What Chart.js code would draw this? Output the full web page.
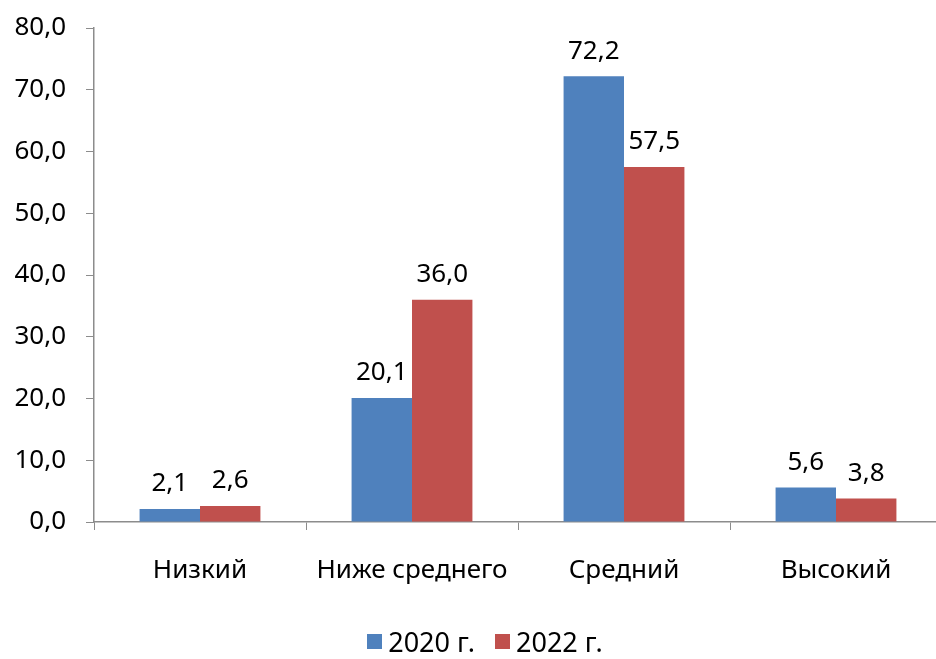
<!DOCTYPE html>
<html lang="ru">
<head>
<meta charset="utf-8">
<title>Уровень</title>
<script src="https://cdn.jsdelivr.net/npm/chart.js@4.4.1/dist/chart.umd.min.js"></script>
<style>
  html, body { margin: 0; padding: 0; background: #fff; overflow: hidden; }
  #wrap { position: relative; width: 936px; height: 659px; overflow: hidden; }
  #legend {
    position: absolute; left: 0; top: 623px; width: 970px;
    display: flex; justify-content: center; gap: 20px;
    font: 27px "Noto Sans", sans-serif; color: #000;
  }
  #legend span.item { display: flex; align-items: center; }
  #legend i { display: inline-block; width: 15px; height: 15px; margin-right: 6px; }
</style>
</head>
<body>
<div id="wrap">
  <canvas id="chart" width="950" height="659"></canvas>
  <div id="legend"></div>
</div>
<script>
/* ---------- data ---------- */
const categories = ['Низкий', 'Ниже среднего', 'Средний', 'Высокий'];
const series2020 = [2.1, 20.1, 72.2, 5.6];
const series2022 = [2.6, 36.0, 57.5, 3.8];
const seriesNames = ['2020 г.', '2022 г.'];
const seriesColors = ['#4F81BD', '#C0504D'];

const FONT = '"Noto Sans", sans-serif';
const fmt = v => Number(v).toFixed(1).replace('.', ',');

// value labels above each bar, placed from the bar element positions
const valueLabels = {
  id: 'valueLabels',
  afterDatasetsDraw(chart) {
    const ctx = chart.ctx;
    ctx.save();
    ctx.font = '26px ' + FONT;
    ctx.fillStyle = '#000';
    ctx.textAlign = 'center';
    ctx.textBaseline = 'bottom';
    chart.data.datasets.forEach((ds, i) => {
      chart.getDatasetMeta(i).data.forEach((bar, j) => {
        ctx.fillText(fmt(ds.data[j]), bar.x, bar.y - 12);
      });
    });
    ctx.restore();
  }
};

new Chart(document.getElementById('chart').getContext('2d'), {
  type: 'bar',
  data: {
    labels: categories,
    datasets: [
      { label: seriesNames[0], data: series2020, backgroundColor: seriesColors[0] },
      { label: seriesNames[1], data: series2022, backgroundColor: seriesColors[1] }
    ]
  },
  options: {
    responsive: false,
    animation: false,
    layout: { padding: { top: 28, right: 8, left: 0, bottom: 0 } },
    datasets: { bar: { categoryPercentage: 0.57, barPercentage: 1.0 } },
    plugins: { legend: { display: false }, tooltip: { enabled: false } },
    scales: {
      y: {
        min: 0, max: 80,
        ticks: { stepSize: 10, callback: v => fmt(v), font: { size: 26, family: FONT }, color: '#000', padding: 20 },
        grid: { drawOnChartArea: false, drawTicks: true, tickLength: 8, color: '#8c8c8c' },
        border: { display: true, color: '#8c8c8c', width: 1.5 },
        afterFit: s => { s.width = 94; s.paddingTop = 0; s.paddingBottom = 0; }
      },
      x: {
        ticks: { font: { size: 26, family: FONT }, color: '#000', padding: 25 },
        grid: { offset: true, drawOnChartArea: false, drawTicks: true, tickLength: 8, color: '#8c8c8c' },
        border: { display: true, color: '#8c8c8c', width: 1.5 },
        afterFit: s => { s.height = 137; }
      }
    }
  },
  plugins: [valueLabels]
});

document.getElementById('legend').innerHTML = seriesNames.map((n, i) =>
  '<span class="item"><i style="background:' + seriesColors[i] + '"></i>' + n + '</span>').join('');
</script>
</body>
</html>
